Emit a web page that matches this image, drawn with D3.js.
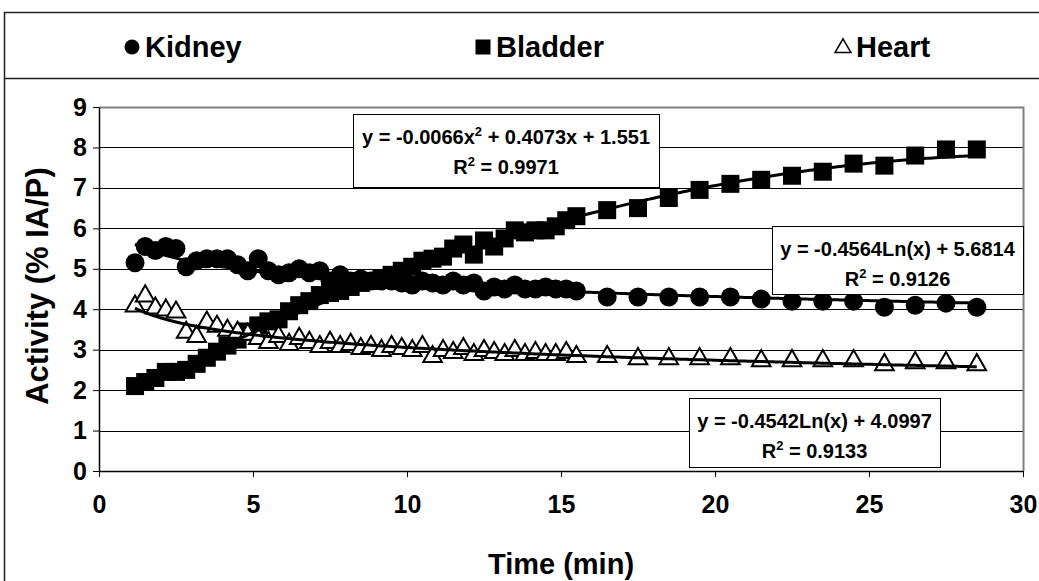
<!DOCTYPE html>
<html>
<head>
<meta charset="utf-8">
<script src="https://cdn.jsdelivr.net/npm/d3@7"></script>
<style>
  body { margin: 0; background: #fff; }
  text { font-family: "Liberation Sans", Arial, sans-serif; font-weight: bold; fill: #000; }
</style>
</head>
<body>
<div id="viz"></div>
<script>
// time points (min)
const times = [1.17, 1.5, 1.83, 2.17, 2.5, 2.83, 3.17, 3.5, 3.83, 4.17, 4.5, 4.83, 5.17, 5.5, 5.83,
  6.17, 6.5, 6.83, 7.17, 7.5, 7.83, 8.17, 8.5, 8.83, 9.17, 9.5, 9.83, 10.17, 10.5, 10.83, 11.17,
  11.5, 11.83, 12.17, 12.5, 12.83, 13.17, 13.5, 13.83, 14.17, 14.5, 14.83, 15.17, 15.5,
  16.5, 17.5, 18.5, 19.5, 20.5, 21.5, 22.5, 23.5, 24.5, 25.5, 26.5, 27.5, 28.5];

const kidney = [5.15, 5.55, 5.45, 5.55, 5.5, 5.05, 5.2, 5.25, 5.25, 5.25, 5.1, 4.95, 5.25, 4.95, 4.85,
  4.9, 5.0, 4.9, 4.95, 4.7, 4.85, 4.7, 4.75, 4.7, 4.7, 4.7, 4.65, 4.6, 4.7, 4.65, 4.6,
  4.7, 4.6, 4.65, 4.45, 4.55, 4.5, 4.6, 4.5, 4.5, 4.55, 4.5, 4.5, 4.45,
  4.3, 4.3, 4.3, 4.3, 4.3, 4.25, 4.2, 4.2, 4.2, 4.05, 4.1, 4.15, 4.05];

const bladder = [2.1, 2.2, 2.3, 2.45, 2.45, 2.5, 2.65, 2.8, 2.95, 3.1, 3.25, 3.45, 3.6, 3.7, 3.75,
  3.95, 4.1, 4.2, 4.35, 4.4, 4.45, 4.55, 4.65, 4.7, 4.75, 4.85, 4.95, 5.05, 5.2, 5.25, 5.3,
  5.5, 5.6, 5.35, 5.7, 5.55, 5.75, 5.95, 5.9, 5.95, 5.95, 6.05, 6.2, 6.3,
  6.45, 6.5, 6.75, 6.95, 7.1, 7.2, 7.3, 7.4, 7.6, 7.55, 7.8, 7.95, 7.95];

const heart = [4.1, 4.35, 4.05, 4.0, 3.95, 3.45, 3.35, 3.7, 3.6, 3.5, 3.45, 3.4, 3.3, 3.2, 3.35,
  3.15, 3.3, 3.2, 3.1, 3.2, 3.1, 3.15, 3.05, 3.1, 3.0, 3.1, 3.05, 3.0, 3.1, 2.85, 3.0,
  2.95, 3.05, 2.9, 3.0, 2.95, 2.9, 3.0, 2.9, 2.95, 2.9, 2.9, 2.95, 2.85,
  2.85, 2.8, 2.8, 2.8, 2.8, 2.75, 2.75, 2.75, 2.75, 2.65, 2.7, 2.7, 2.65];

// trendline coefficients as printed on the chart
const bladderFit = [-0.0066, 0.4073, 1.551];
const kidneyFit = [-0.4564, 5.6814];
const heartFit = [-0.4542, 4.0997];

const xTicks = [0, 5, 10, 15, 20, 25, 30];
const yTicks = [0, 1, 2, 3, 4, 5, 6, 7, 8, 9];
const legendNames = ['Kidney', 'Bladder', 'Heart'];

const W = 1039, H = 581;
const plot = { left: 99, right: 1023, top: 107, bottom: 471 };

const svg = d3.select('#viz')
  .append('svg')
  .attr('width', W)
  .attr('height', H);

svg.append('rect').attr('width', W).attr('height', H).attr('fill', '#fff');

// outer chart frame + legend band
svg.append('rect')
  .attr('x', 4.5).attr('y', 12.5)
  .attr('width', W + 10).attr('height', H + 10)
  .attr('fill', 'none').attr('stroke', '#222').attr('stroke-width', 1.5);
svg.append('line')
  .attr('x1', 4.5).attr('x2', W).attr('y1', 78.5).attr('y2', 78.5)
  .attr('stroke', '#222').attr('stroke-width', 1.5);

const x = d3.scaleLinear().domain([0, 30]).range([plot.left, plot.right]);
const y = d3.scaleLinear().domain([0, 9]).range([plot.bottom, plot.top]);

// gridlines
svg.append('g')
  .selectAll('line')
  .data(yTicks.filter(d => d > 0 && d < 9))
  .enter()
  .append('line')
  .attr('x1', plot.left).attr('x2', plot.right)
  .attr('y1', d => Math.round(y(d)) + 0.5)
  .attr('y2', d => Math.round(y(d)) + 0.5)
  .attr('stroke', '#000').attr('stroke-width', 1);

// plot area border (top / right)
svg.append('path')
  .attr('d', `M${plot.left},${plot.top + 0.5}H${plot.right + 0.5}V${plot.bottom}`)
  .attr('fill', 'none').attr('stroke', '#808080').attr('stroke-width', 2);

// axes
const xAxis = svg.append('g')
  .attr('transform', `translate(0,${plot.bottom})`)
  .call(d3.axisBottom(x).tickValues(xTicks).tickSize(6).tickPadding(18).tickSizeOuter(0));
const yAxis = svg.append('g')
  .attr('transform', `translate(${plot.left},0)`)
  .call(d3.axisLeft(y).tickValues(yTicks).tickSize(6).tickPadding(6).tickSizeOuter(0));

[xAxis, yAxis].forEach(g => {
  g.select('.domain').attr('stroke', '#000').attr('stroke-width', 1.5);
  g.selectAll('.tick line').attr('stroke', '#000');
  g.selectAll('.tick text')
    .attr('fill', '#000')
    .style('font-size', '25px')
    .style('font-family', '"Liberation Sans", Arial, sans-serif')
    .style('font-weight', 'bold');
});

svg.append('text')
  .attr('x', (plot.left + plot.right) / 2)
  .attr('y', 574)
  .attr('text-anchor', 'middle')
  .style('font-size', '29px')
  .text('Time (min)');

svg.append('text')
  .attr('transform', `translate(48,${(plot.top + plot.bottom) / 2 - 3}) rotate(-90)`)
  .attr('text-anchor', 'middle')
  .style('font-size', '31px')
  .text('Activity (% IA/P)');

// markers
const circleR = 9.5;
const sq = 18;
const tri = d3.symbol().type(d3.symbolTriangle).size(150);

const pts = (vals) => vals.map((v, i) => ({ t: times[i], v }));

svg.append('g')
  .selectAll('circle')
  .data(pts(kidney))
  .enter()
  .append('circle')
  .attr('cx', d => x(d.t))
  .attr('cy', d => y(d.v))
  .attr('r', circleR)
  .attr('fill', '#000');

svg.append('g')
  .selectAll('rect')
  .data(pts(bladder))
  .enter()
  .append('rect')
  .attr('x', d => x(d.t) - sq / 2)
  .attr('y', d => y(d.v) - sq / 2)
  .attr('width', sq)
  .attr('height', sq)
  .attr('fill', '#000');

svg.append('g')
  .selectAll('path')
  .data(pts(heart))
  .enter()
  .append('path')
  .attr('d', tri)
  .attr('transform', d => `translate(${x(d.t)},${y(d.v) + 1})`)
  .attr('fill', '#fff')
  .attr('stroke', '#000')
  .attr('stroke-width', 2);

// trendlines
const tMin = d3.min(times), tMax = d3.max(times);
const tSteps = d3.range(tMin, tMax, 0.1).concat([tMax]);
const line = d3.line().x(d => x(d[0])).y(d => y(d[1]));
const trends = [
  t => kidneyFit[0] * Math.log(t) + kidneyFit[1],
  t => bladderFit[0] * t * t + bladderFit[1] * t + bladderFit[2],
  t => heartFit[0] * Math.log(t) + heartFit[1]
];
svg.append('g')
  .selectAll('path')
  .data(trends)
  .enter()
  .append('path')
  .attr('d', f => line(tSteps.map(t => [t, f(t)])))
  .attr('fill', 'none')
  .attr('stroke', '#000')
  .attr('stroke-width', 3);

// equation labels
const eqBoxes = [
  { x: 353, y: 114, w: 306, h: 73, a: 'y = -0.0066x', sup: '2', b: ' + 0.4073x + 1.551', r2: '0.9971' },
  { x: 772, y: 226, w: 251, h: 68, a: 'y = -0.4564Ln(x) + 5.6814', sup: '', b: '', r2: '0.9126' },
  { x: 689, y: 398, w: 251, h: 69, a: 'y = -0.4542Ln(x) + 4.0997', sup: '', b: '', r2: '0.9133' }
];
const eq = svg.append('g')
  .selectAll('g')
  .data(eqBoxes)
  .enter()
  .append('g');
eq.append('rect')
  .attr('x', d => d.x + 0.5).attr('y', d => d.y + 0.5)
  .attr('width', d => d.w).attr('height', d => d.h)
  .attr('fill', '#fff').attr('stroke', '#000').attr('stroke-width', 1);
const l1 = eq.append('text')
  .attr('x', d => d.x + d.w / 2)
  .attr('y', d => d.y + 30)
  .attr('text-anchor', 'middle')
  .style('font-size', '20px');
l1.append('tspan').text(d => d.a);
l1.filter(d => d.sup).append('tspan').attr('dy', -8).style('font-size', '13px').text(d => d.sup);
l1.filter(d => d.sup).append('tspan').attr('dy', 8).text(d => d.b);
const l2 = eq.append('text')
  .attr('x', d => d.x + d.w / 2)
  .attr('y', d => d.y + 60)
  .attr('text-anchor', 'middle')
  .style('font-size', '20px');
l2.append('tspan').text('R');
l2.append('tspan').attr('dy', -8).style('font-size', '13px').text('2');
l2.append('tspan').attr('dy', 8).text(d => ' = ' + d.r2);

// legend
const legendX = [132, 483, 843];
const lg = svg.append('g')
  .selectAll('g')
  .data(legendNames)
  .enter()
  .append('g')
  .attr('transform', (d, i) => `translate(${legendX[i]},47)`);
lg.filter((d, i) => i === 0).append('circle').attr('r', 7.5).attr('fill', '#000');
lg.filter((d, i) => i === 1).append('rect').attr('x', -7.5).attr('y', -7.5).attr('width', 15).attr('height', 15).attr('fill', '#000');
lg.filter((d, i) => i === 2).append('path')
  .attr('d', d3.symbol().type(d3.symbolTriangle).size(110))
  .attr('transform', 'translate(0,1)')
  .attr('fill', '#fff').attr('stroke', '#000').attr('stroke-width', 1.5);
lg.append('text')
  .attr('x', 13)
  .attr('y', 10)
  .style('font-size', '29px')
  .text(d => d);
</script>
</body>
</html>
